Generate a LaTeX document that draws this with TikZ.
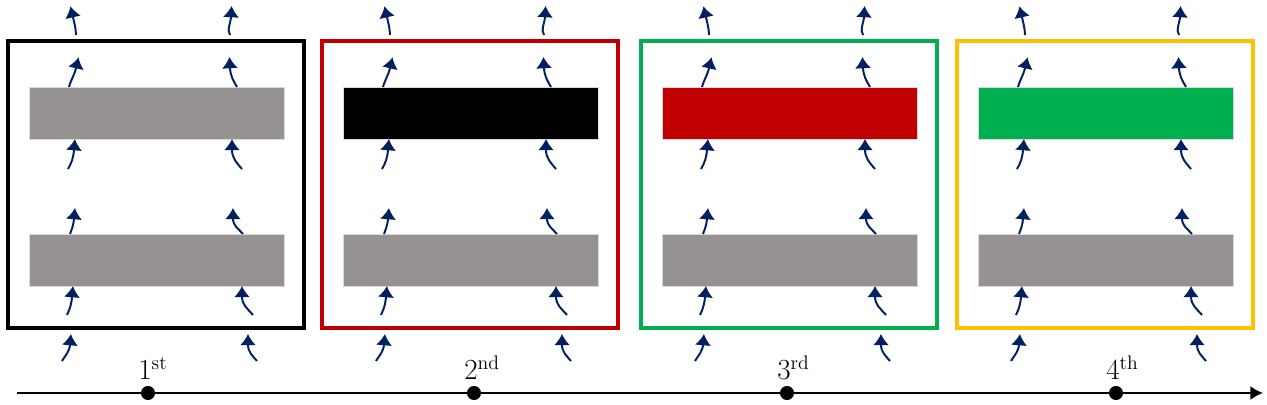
\documentclass[tikz,border=0pt]{standalone}
\usepackage{amsmath}
\usepackage{xcolor}
\usepackage{tikz}
\usetikzlibrary{arrows.meta}
\definecolor{barGray}{RGB}{150,146,145}
\definecolor{flowBlue}{RGB}{0,32,96}
\definecolor{darkRed}{RGB}{192,0,0}
\definecolor{brightGreen}{RGB}{0,176,80}
\definecolor{amber}{RGB}{255,192,0}
\tikzset{%Global config
	>={Latex[length=9pt,width=10pt]},
	color = black ,
	%Styles
	Frame/.style={
		draw=#1,
		line width=2.6pt,
	},
	Bar/.style={
		fill=#1,
		draw=black!15,
		line width=0.3pt,
	},
	Flow/.style={
		draw=flowBlue,
		line width=1.4pt,
		shorten >=-8pt,
		-{Latex[length=8pt,width=11.5pt]},
	},
	Tick/.style={
		circle,
		fill=black,
		inner sep=0pt,
		minimum size=10pt,
	},
	Lbl/.style={
		inner sep=0pt,
		anchor=base west,
		font=\fontsize{20}{24}\selectfont,
	}
}

\begin{document}
\begin{tikzpicture}[x=0.025cm, y=0.025cm]
		\useasboundingbox (0,0) rectangle (1267,405);
		% Panels: left edge / frame colour / upper bar colour
		\foreach \x/\fc/\bc in {8/black/barGray, 322/darkRed/black, 641/brightGreen/darkRed, 957/amber/brightGreen}{
			\begin{scope}[shift={(\x,0)}]
				\path[Bar=\bc] (21,266) rectangle (276,318);
				\path[Bar=barGray] (21,119) rectangle (276,171);
				\draw[Frame=\fc] (0,77) rectangle (296,364);
				% Flow arrows: start / tip / out / in
				\foreach \bx/\by/\tx/\ty/\o/\n in {
					68/370/65/399/92/-77, 222/370/223/399/120/-93,
					61/318/68/348/75/-103, 229/318/222/348/120/-87,
					60/236/66/266/60/-95, 234/236/224/266/130/-90,
					62/171/66/197/70/-95, 235/171/225/197/130/-90,
					59/90/64/119/65/-95, 245/90/234/119/130/-90,
					54/44/62/71/60/-95, 249/44/240/71/130/-90}
					\draw[Flow] (\bx,\by) to[out=\o, in=\n] ([yshift=-8pt]\tx,\ty);
			\end{scope}
		}
		
		% Time line
		\coordinate (T0) at (17,12);
		\coordinate (T1) at (1263,12);
		\draw[->, line width=1.4pt] (T0) -- (T1);
		\foreach \i/\x/\s in {1/148/st, 2/474/nd, 3/787/rd, 4/1116/th}{
			\node[Tick] (d\i) at (\x,12) {};
			\node[Lbl] (l\i) at ([shift={(-10,13)}]d\i.center) {$\i^{\text{\s}}$};
		}
	\end{tikzpicture}
\end{document}
